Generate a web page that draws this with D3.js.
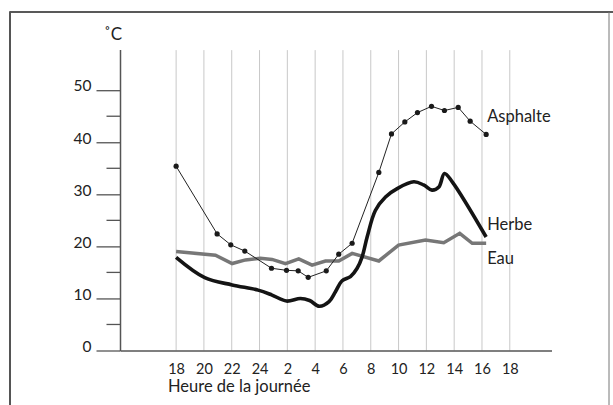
<!DOCTYPE html>
<html><head><meta charset="utf-8">
<script src="https://cdn.jsdelivr.net/npm/d3@7"></script>
<style>body{margin:0;background:#fff}svg{display:block}text{font-family:Lato,"Open Sans",sans-serif;fill:#222}</style>
</head><body><svg id="c" width="613" height="405"></svg>
<script>
// hours since 18:00 on the previous day
const xTickHours = [0,2,4,6,8,10,12,14,16,18,20,22,24];
const xTickLabels = ["18","20","22","24","2","4","6","8","10","12","14","16","18"];
const yMajor = [0,10,20,30,40,50];
const yMinor = [5,15,25,35,45];

const asphalteH = [0,2.95,3.93,4.94,6.86,7.94,8.78,9.5,10.8,11.7,12.66,14.58,15.49,16.45,17.36,18.37,19.3,20.29,21.15,22.3];
const asphalteV = [35.4,22.4,20.3,19.1,15.8,15.4,15.3,14.05,15.3,18.5,20.6,34.2,41.6,43.9,45.7,46.9,46.1,46.7,44.05,41.5];

const herbeH = [0,2.06,4.03,5.9,6.9,7.94,8.94,9.6,10.3,11.0,11.46,11.94,12.54,13.02,13.38,13.74,14.33,15.06,15.9,17.1,17.8,18.4,18.9,19.3,19.86,22.3];
const herbeV = [17.9,14.0,12.6,11.6,10.65,9.5,10.0,9.6,8.5,9.4,11.3,13.4,14.2,15.8,18.0,21.8,26.9,29.5,31.1,32.4,31.8,30.8,31.4,34.0,32.4,21.8];

const eauH = [0,2.83,4.03,4.99,6.06,6.9,7.87,8.82,9.78,10.74,11.7,12.66,14.58,16.0,17.94,19.25,20.4,21.3,22.3];
const eauV = [19.0,18.3,16.7,17.4,17.7,17.5,16.7,17.6,16.4,17.2,17.2,18.65,17.2,20.25,21.2,20.7,22.5,20.6,20.6];

const seriesLabels = ["Asphalte","Herbe","Eau"];
const labelValues = [43.8, 23.2, 16.7];

const svg = d3.select("#c");
const x = d3.scaleLinear().domain([-4,27]).range([120.5,551.5]);
const y = d3.scaleLinear().domain([0,50]).range([350.5,90.2]);

// frame
svg.append("line").attr("x1",10).attr("x2",613).attr("y1",12).attr("y2",12).attr("stroke","#222").attr("stroke-width",1.5);
svg.append("line").attr("x1",10).attr("x2",10).attr("y1",11.3).attr("y2",405).attr("stroke","#555").attr("stroke-width",2);
svg.append("line").attr("x1",609).attr("x2",609).attr("y1",12).attr("y2",405).attr("stroke","#777").attr("stroke-width",1);

// grid
svg.append("g").selectAll("line").data(xTickHours).join("line")
  .attr("x1",d=>x(d)).attr("x2",d=>x(d)).attr("y1",y(57.7)).attr("y2",y(0))
  .attr("stroke","#c8c8c8").attr("stroke-width",1);

// y axis
const yAx = d3.axisLeft(y).tickValues(yMajor).tickSize(24).tickPadding(5).tickFormat(d3.format("d"));
const gy = svg.append("g").attr("transform",`translate(${x(-4)},0)`).call(yAx);
gy.select(".domain").remove();
gy.selectAll(".tick line").attr("stroke","#555").attr("stroke-width",1.3);
gy.selectAll(".tick text").attr("dy","0.05em").style("font-size","15.5px").attr("fill","#222");
svg.append("g").selectAll("line").data(yMinor).join("line")
  .attr("x1",x(-4)-14).attr("x2",x(-4)).attr("y1",d=>y(d)).attr("y2",d=>y(d))
  .attr("stroke","#555").attr("stroke-width",1.3);
svg.append("line").attr("x1",x(-4)).attr("x2",x(-4)).attr("y1",y(57.7)).attr("y2",y(0)+0.7)
  .attr("stroke","#555").attr("stroke-width",1.5);
svg.append("text").attr("x",104).attr("y",40).style("font-size","17px").text("˚C");

// x axis
const xAx = d3.axisBottom(x).tickValues(xTickHours).tickSize(0).tickPadding(13)
  .tickFormat((d,i)=>xTickLabels[i]);
const gx = svg.append("g").attr("transform",`translate(0,${y(0)})`).call(xAx);
gx.select(".domain").attr("stroke","#555").attr("stroke-width",1.5);
gx.selectAll(".tick text").style("font-size","14.5px").attr("fill","#222");
svg.append("text").attr("x",168).attr("y",392).style("font-size","16.5px").text("Heure de la journée");

// lines
const zip = (h,v)=>h.map((d,i)=>[d,v[i]]);
const lin = d3.line().x(d=>x(d[0])).y(d=>y(d[1]));
const smooth = d3.line().x(d=>x(d[0])).y(d=>y(d[1])).curve(d3.curveCatmullRom.alpha(0.5));

svg.append("path").attr("d",lin(zip(eauH,eauV))).attr("fill","none")
  .attr("stroke","#777").attr("stroke-width",3.5).attr("stroke-linejoin","miter");
svg.append("path").attr("d",smooth(zip(herbeH,herbeV))).attr("fill","none")
  .attr("stroke","#141414").attr("stroke-width",3.6).attr("stroke-linejoin","miter");
svg.append("path").attr("d",lin(zip(asphalteH,asphalteV))).attr("fill","none")
  .attr("stroke","#222").attr("stroke-width",1);
svg.append("g").selectAll("circle").data(zip(asphalteH,asphalteV)).join("circle")
  .attr("cx",d=>x(d[0])).attr("cy",d=>y(d[1])).attr("r",2.6).attr("fill","#1a1a1a");

// series labels
svg.append("g").selectAll("text").data(seriesLabels).join("text")
  .attr("x",x(22.3)+1).attr("y",(d,i)=>y(labelValues[i])).style("font-size","16.5px").text(d=>d);
</script></body></html>
